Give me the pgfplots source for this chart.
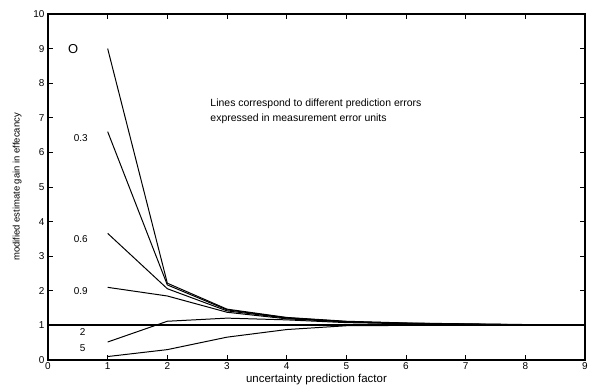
\documentclass[border=0pt]{standalone}
\usepackage{pgfplots}
\pgfplotsset{compat=1.18}
\usepackage{fontspec}
\setmainfont{Liberation Sans}
\begin{document}
\begin{tikzpicture}
\path[use as bounding box] (-48bp,-29bp) rectangle (545bp,360bp);
\begin{axis}[
  scale only axis,
  width=537bp, height=346bp,
  xmin=0, xmax=9, ymin=0, ymax=10,
  xtick={0,...,9}, ytick={0,...,10},
  tick align=inside,
  major tick length=5bp,
  tick style={black, line width=0.9pt},
  axis line style={black, line width=1.2pt},
  /pgf/number format/assume math mode=true,
  tick label style={font=\fontsize{10}{12}\selectfont},
  xticklabel style={yshift=1bp},
  xlabel={uncertainty prediction factor},
  xlabel style={font=\fontsize{11.5}{13}\selectfont, yshift=2bp},
  ylabel={modified estimate gain in effecancy},
  ylabel style={font=\fontsize{9.5}{11}\selectfont, yshift=5bp},
  cycle list={{black, solid, mark=none}},
  every axis plot/.append style={line width=1pt},
  clip=false,
]
\addplot coordinates {(1,9.0) (2,2.22) (3,1.47) (4,1.23) (5,1.12) (6,1.07) (7,1.045) (8,1.025) (9,1.015)};
\addplot coordinates {(1,6.6) (2,2.17) (3,1.45) (4,1.22) (5,1.11) (6,1.065) (7,1.04) (8,1.02) (9,1.01)};
\addplot coordinates {(1,3.66) (2,2.06) (3,1.42) (4,1.21) (5,1.1) (6,1.06) (7,1.035) (8,1.02) (9,1.01)};
\addplot coordinates {(1,2.1) (2,1.85) (3,1.38) (4,1.19) (5,1.1) (6,1.055) (7,1.03) (8,1.015) (9,1.01)};
\addplot coordinates {(1,0.52) (2,1.12) (3,1.21) (4,1.16) (5,1.08) (6,1.05) (7,1.03) (8,1.015) (9,1.005)};
\addplot coordinates {(1,0.1) (2,0.3) (3,0.66) (4,0.88) (5,0.99) (6,1.0) (7,1.0) (8,1.0) (9,1.0)};
\addplot[black, mark=none, line width=2pt] coordinates {(0,1) (9,1)};
\node[font=\fontsize{13}{14}\selectfont] at (axis cs:0.42,9.0) {O};
\node[font=\fontsize{10}{12}\selectfont] at (axis cs:0.55,6.4) {0.3};
\node[font=\fontsize{10}{12}\selectfont] at (axis cs:0.55,3.5) {0.6};
\node[font=\fontsize{10}{12}\selectfont] at (axis cs:0.55,2.0) {0.9};
\node[font=\fontsize{10}{12}\selectfont] at (axis cs:0.58,0.82) {2};
\node[font=\fontsize{10}{12}\selectfont] at (axis cs:0.58,0.33) {5};
\node[font=\fontsize{10.5}{14}\selectfont, anchor=north west, align=left, inner sep=0pt] at (axis cs:2.72,7.55) {Lines correspond to different prediction errors\\[1pt]expressed in measurement error units};
\end{axis}
\end{tikzpicture}
\end{document}
